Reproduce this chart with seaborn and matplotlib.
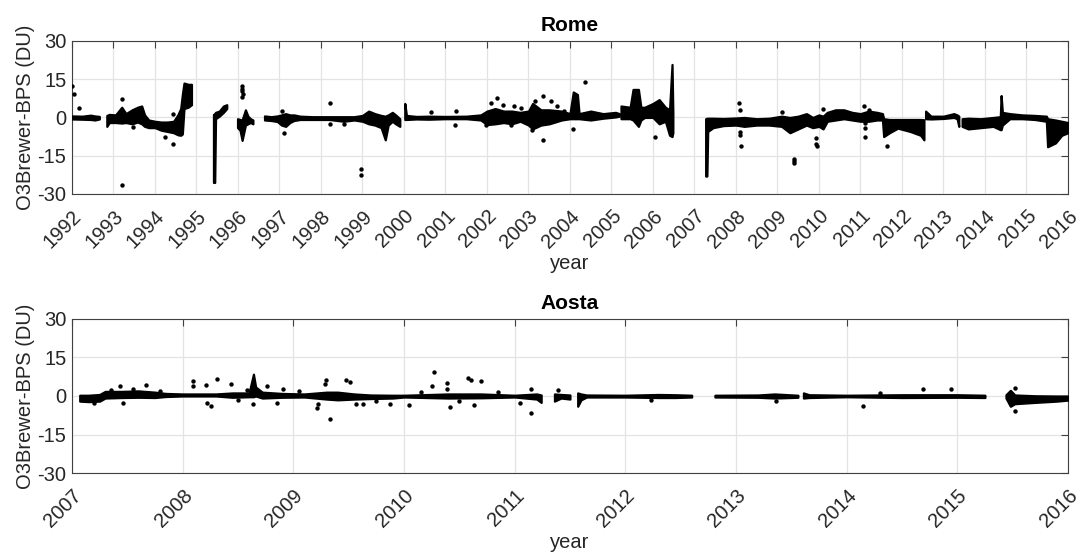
import numpy as np
import pandas as pd
import matplotlib
matplotlib.use("Agg")
import matplotlib.pyplot as plt
import seaborn as sns

nan = np.nan

# ---- Rome: envelope of the dense daily differences (year, lower, upper); NaN splits gaps
rome_year = [1992.00, 1992.25, 1992.45, 1992.55, 1992.66, nan,
             1992.84, 1992.90, 1993.05, 1993.20, 1993.30, 1993.45, 1993.58, 1993.68, 1993.75,
             1993.85, 1994.00, 1994.15, 1994.30, 1994.45, 1994.55, 1994.62, 1994.66, 1994.70,
             1994.80, 1994.88, nan,
             1995.41, 1995.44, 1995.46, 1995.55, 1995.65, 1995.73, nan,
             1995.99, 1996.05, 1996.10, 1996.14, 1996.18, 1996.24, 1996.30, 1996.36, nan,
             1996.64, 1996.80, 1996.95, 1997.05, 1997.15, 1997.25, 1997.35, 1997.50, 1997.80,
             1998.20, 1998.55, 1998.80, 1999.00, 1999.15, 1999.30, 1999.45, 1999.55, 1999.62,
             1999.72, 1999.80, 1999.90, nan,
             2000.02, 2000.06, 2000.30, 2000.60, 2001.00, 2001.50, 2001.85, 2002.00, 2002.20,
             2002.40, 2002.60, 2002.80, 2003.00, 2003.10, 2003.30, 2003.50, 2003.80, 2004.00,
             2004.08, 2004.18, 2004.22, 2004.50, 2004.80, 2005.10, 2005.19, nan,
             2005.23, 2005.45, 2005.52, 2005.65, 2005.71, 2005.80, 2006.00, 2006.15, 2006.30,
             2006.40, 2006.46, 2006.48, nan,
             2007.27, 2007.30, 2007.32, 2007.45, 2007.70, 2008.00, 2008.20, 2008.50, 2008.80,
             2009.10, 2009.30, 2009.50, 2009.70, 2009.85, 2010.00, 2010.10, 2010.20, 2010.40,
             2010.60, 2010.80, 2011.00, 2011.20, 2011.40, 2011.53, 2011.56, 2011.70, 2011.90,
             2012.20, 2012.45, 2012.53, nan,
             2012.57, 2012.70, 2013.00, 2013.25, 2013.33, 2013.37, nan,
             2013.45, 2013.60, 2013.90, 2014.20, 2014.37, 2014.39, 2014.42, 2014.60, 2014.90,
             2015.20, 2015.48, 2015.51, 2015.70, 2015.85, 2016.00]
rome_lo = [-0.6, -0.7, -0.8, -1.0, -0.6, nan,
           -3.5, -2.0, -2.0, -2.2, -2.0, -2.5, -1.8, -2.5, -3.5,
           -4.0, -4.0, -5.0, -5.5, -6.0, -6.8, -7.0, -6.5, 3.5,
           4.0, 5.0, nan,
           -25.5, -25.5, -0.5, 0.5, 2.0, 3.5, nan,
           -4.0, -5.0, -9.0, -6.0, -3.0, -2.5, -2.0, -2.5, nan,
           -1.0, -1.2, -1.6, -3.0, -3.5, -2.0, -1.2, -0.8, -0.8,
           -0.8, -1.5, -1.0, -1.5, -2.5, -3.0, -4.0, -8.8, -3.0,
           -1.5, -2.5, -3.5, nan,
           -0.8, -0.8, -0.6, -0.7, -0.5, -0.5, -1.0, -2.8, -2.5,
           -2.0, -2.5, -1.5, -3.0, -4.5, -3.0, -2.5, -1.0, -0.5,
           -0.5, -0.5, -0.5, -1.0, -0.3, 0.2, 0.5, nan,
           -0.5, -0.5, -1.0, -3.5, -1.0, 0.0, 0.0, -2.5, -1.5,
           -7.0, -7.5, -6.0, nan,
           -23.0, -23.0, -5.5, -4.0, -3.2, -3.0, -3.5, -3.0, -3.0,
           -3.5, -6.0, -4.5, -3.0, -4.0, -3.5, -4.5, -1.5, -1.0,
           -0.5, -1.0, -1.5, -1.5, -1.0, -1.0, -7.5, -6.0, -4.2,
           -5.5, -7.0, -8.8, nan,
           -0.5, -0.6, -0.4, 0.0, -0.5, -3.5, nan,
           -3.5, -4.5, -4.0, -3.5, -4.8, -4.8, -3.0, -0.5, -0.5,
           -0.8, -1.5, -11.5, -10.0, -7.0, -6.0]
rome_hi = [0.6, 0.5, 0.9, 0.6, 0.4, nan,
           0.8, 1.2, 1.0, 4.0, 1.5, 3.0, 4.0, 4.5, 1.0,
           -1.0, -1.5, -1.8, -1.8, -1.5, 1.0, 3.5, 9.0, 13.5,
           13.0, 13.0, nan,
           1.2, 1.5, 2.0, 2.5, 4.5, 5.0, nan,
           -0.5, -0.8, -1.0, 1.0, 3.0, 0.5, -0.5, -1.0, nan,
           0.6, 0.3, 0.6, 1.0, 1.5, 1.0, 1.0, 0.5, 0.3,
           0.3, 0.3, 0.3, 0.8, 2.5, 1.5, 0.8, 0.5, 1.0,
           2.0, 1.0, -0.5, nan,
           5.5, 0.8, 0.4, 0.5, 0.4, 0.5, 1.0, 2.5, 3.5,
           2.5, 2.5, 2.0, 2.5, 5.5, 3.0, 3.0, 2.5, 1.5,
           10.0, 9.0, 1.5, 2.5, 1.5, 2.0, 1.5, nan,
           4.5, 4.0, 11.0, 11.0, 4.0, 4.0, 5.5, 7.0, 4.0,
           3.0, 20.8, 2.0, nan,
           -0.5, -0.3, -0.3, -0.3, -0.4, -0.2, 0.0, -0.5, -0.3,
           0.5, 0.0, 0.5, 1.5, 0.0, 1.0, 0.5, 2.0, 3.0,
           3.0, 2.0, 1.5, 2.5, 2.0, 1.5, -0.5, -0.8, -0.8,
           -0.8, -0.8, -0.9, nan,
           2.5, 0.5, 0.5, 1.5, 1.0, 0.5, nan,
           -0.5, -0.3, -0.5, 0.0, 0.3, 8.6, 2.0, 1.5, 1.0,
           0.8, 0.5, -0.5, -1.0, -1.5, -2.0]

# ---- Rome: isolated points away from the main band
rome_pt_year = [1992.01, 1992.05, 1992.17, 1993.21, 1993.21, 1993.48, 1994.24, 1994.44, 1994.44,
                1996.10, 1996.10, 1996.10, 1996.11, 1996.10, 1997.05, 1997.12,
                1998.23, 1998.23, 1998.55, 1998.96, 1998.96, 2000.66, 2001.22, 2001.25,
                2001.98, 2002.10, 2002.25, 2002.38, 2002.58, 2002.64, 2002.82,
                2003.08, 2003.15, 2003.36, 2003.36, 2003.55, 2003.69, 2003.86,
                2004.08, 2004.36, 2006.06,
                2008.08, 2008.09, 2008.10, 2008.10, 2008.11, 2009.12, 2009.39, 2009.39, 2009.39,
                2009.93, 2009.93, 2009.95, 2010.10, 2011.08, 2011.10, 2011.10, 2011.10, 2011.20,
                2011.63]
rome_pt_val = [12.4, 9.2, 3.8, 7.2, -26.7, -3.9, -7.5, -10.5, 1.4,
               12.2, 11.2, 10.2, 9.2, 8.2, 2.4, -6.1,
               5.6, -2.6, -2.6, -20.3, -22.5, 2.1, -3.1, 2.6,
               -3.1, 5.6, 7.8, 5.0, -3.1, 4.3, 3.7,
               -4.8, 6.5, 8.6, -8.8, 6.3, 4.3, 2.6,
               -4.4, 14.0, -7.5,
               5.6, 3.0, -5.9, -6.8, -11.4, 2.1, -16.2, -17.0, -17.9,
               -8.1, -10.5, -11.4, 3.4, 4.3, -2.2, -4.2, -7.7, 3.0,
               -11.4]

# ---- Aosta: envelope of the dense daily differences
aosta_year = [2007.07, 2007.15, 2007.25, 2007.30, 2007.45, 2007.60, 2007.75, 2007.85, 2008.00,
              2008.30, 2008.45, 2008.60, 2008.64, 2008.66, 2008.72, 2008.90, 2009.10, 2009.30,
              2009.40, 2009.55, 2009.70, 2009.90, 2010.00, 2010.40, 2010.70, 2011.00, 2011.20,
              2011.24, nan,
              2011.36, 2011.42, 2011.50, nan,
              2011.57, 2011.60, 2011.65, 2012.00, 2012.30, 2012.45, 2012.60, nan,
              2012.81, 2013.20, 2013.35, 2013.56, nan,
              2013.61, 2013.66, 2014.00, 2014.50, 2015.00, 2015.25, nan,
              2015.44, 2015.48, 2015.52, 2015.70, 2015.90, 2016.00]
aosta_lo = [-2.0, -2.2, -2.0, -0.8, -0.6, -0.5, -0.6, -0.2, 0.0,
            0.0, -0.5, -0.3, -0.3, 0.0, -0.8, -0.5, -0.4, -1.2,
            -1.5, -1.2, -1.0, -0.8, -0.4, -0.8, -0.7, -0.4, -1.2,
            -2.5, nan,
            -2.0, -0.8, -1.2, nan,
            -4.0, -1.5, -0.4, -0.4, -0.6, -0.6, -0.4, nan,
            -0.4, -0.5, -0.8, -0.5, nan,
            -0.8, -0.6, -0.3, -0.6, -0.5, -0.6, nan,
            -0.8, -4.0, -3.0, -2.5, -2.0, -1.6]
aosta_hi = [0.3, 0.3, 0.6, 1.8, 1.8, 2.0, 1.5, 1.0, 0.8,
            0.8, 1.2, 1.2, 8.5, 3.5, 1.5, 1.0, 0.8, 1.5,
            1.5, 0.8, 0.4, 0.3, 0.3, 0.8, 0.8, 0.3, 0.8,
            0.4, nan,
            0.8, 0.6, 0.4, nan,
            1.2, 0.8, 0.4, 0.3, 0.6, 0.5, 0.3, nan,
            0.3, 0.4, 0.8, 0.3, nan,
            1.2, 0.5, 0.3, 0.5, 0.5, 0.3, nan,
            0.5, 2.2, 0.4, 0.1, 0.0, 0.0]

# ---- Aosta: isolated points
aosta_pt_year = [2007.43, 2007.46, 2007.67, 2008.09, 2008.09, 2008.21, 2008.22, 2008.26, 2008.31,
                 2008.44, 2008.58, 2008.64, 2008.76, 2008.85, 2008.91, 2009.21, 2009.22, 2009.29,
                 2009.30, 2009.33, 2009.48, 2009.51, 2009.57, 2009.63, 2009.87, 2010.05, 2010.25,
                 2010.27, 2010.39, 2010.39, 2010.42, 2010.58, 2010.61, 2010.63, 2010.70, 2011.05,
                 2011.15, 2011.15, 2011.39, 2012.23, 2013.36, 2014.15, 2014.30, 2014.69, 2014.94,
                 2015.52, 2015.52, 2007.20, 2007.35, 2007.55, 2007.80, 2008.50, 2009.05, 2009.75,
                 2010.15, 2010.50, 2010.85]
aosta_pt_val = [3.9, -2.9, 4.2, 5.7, 3.9, 4.2, -2.9, -3.9, 6.8,
                4.5, 2.3, -3.2, 3.9, -2.9, 2.9, -4.5, -3.2, 4.5,
                6.1, -8.8, 6.1, 5.5, -3.2, -3.2, -3.2, -3.5, 3.9,
                9.4, 5.2, 2.9, -4.3, 7.0, 6.2, -3.6, 5.7, -2.6,
                -6.8, 2.6, 2.2, -1.7, -1.9, -3.9, 1.0, 2.9, 2.9,
                -5.8, 3.2, -2.6, 2.3, 2.6, 2.0, -1.5, 1.8, -1.8,
                1.5, -2.0, 1.6]

# ---- axis labelling
rome_ticks = list(range(1992, 2017))
aosta_ticks = list(range(2007, 2017))
y_ticks = [-30, -15, 0, 15, 30]
y_label = "O3Brewer-BPS (DU)"
x_label = "year"

sns.set_style("white")
plt.rcParams["font.family"] = ["Liberation Sans", "DejaVu Sans"]

TXT = "#262626"
fig = plt.figure(figsize=(10.82, 5.54), dpi=100)
ax_top = fig.add_axes([0.0665, 0.650, 0.9205, 0.276])
ax_bot = fig.add_axes([0.0665, 0.1462, 0.9205, 0.278])


def draw_band(ax, years, lo, hi):
    df = pd.DataFrame({"year": years, "lo": lo, "hi": hi})
    grp = df["year"].isna().cumsum()
    for _, seg in df.dropna().groupby(grp[df["year"].notna()]):
        ax.fill_between(seg["year"], seg["lo"], seg["hi"], color="black",
                        edgecolor="black", linewidth=1.6, zorder=3)


def panel(ax, title, years, lo, hi, pyears, pvals, ticks):
    draw_band(ax, years, lo, hi)
    pts = pd.DataFrame({"year": pyears, "val": pvals})
    sns.scatterplot(data=pts, x="year", y="val", ax=ax, color="black", s=10,
                    linewidth=0, zorder=4, legend=False)
    ax.set_xlim(ticks[0], ticks[-1])
    ax.set_ylim(-30, 30)
    ax.set_xticks(ticks)
    ax.set_xticklabels([str(t) for t in ticks], rotation=45, ha="right",
                       rotation_mode="anchor")
    ax.set_yticks(y_ticks)
    ax.set_yticklabels([str(t) for t in y_ticks])
    ax.grid(True, color="#e3e3e3", linewidth=0.9, zorder=0)
    ax.set_axisbelow(True)
    ax.tick_params(axis="both", direction="in", length=5, width=0.8, color="#404040",
                   labelsize=14.5, labelcolor=TXT, top=True, right=True)
    ax.tick_params(axis="x", pad=9)
    ax.tick_params(axis="y", pad=4)
    for sp in ax.spines.values():
        sp.set_color("#404040")
        sp.set_linewidth(0.8)
    ax.set_title(title, fontsize=15, fontweight="bold", color="black", pad=7)
    ax.set_xlabel(x_label, fontsize=14.5, color=TXT, labelpad=2)
    ax.set_ylabel(y_label, fontsize=14.5, color=TXT, labelpad=2)


panel(ax_top, "Rome", rome_year, rome_lo, rome_hi, rome_pt_year, rome_pt_val, rome_ticks)
panel(ax_bot, "Aosta", aosta_year, aosta_lo, aosta_hi, aosta_pt_year, aosta_pt_val, aosta_ticks)

fig.savefig("out.png", dpi=100, facecolor="white")
